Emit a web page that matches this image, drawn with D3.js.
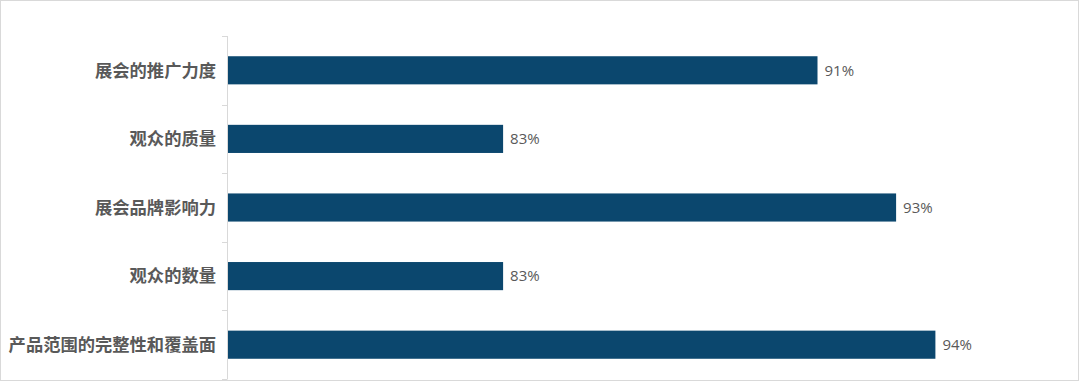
<!DOCTYPE html>
<html><head><meta charset="utf-8">
<script src="https://cdn.jsdelivr.net/npm/d3@7"></script>
<style>html,body{margin:0;padding:0;background:#fff;}svg{display:block;}</style>
</head><body>
<svg id="c" width="1080" height="382"></svg>
<script>
const categories = ["展会的推广力度","观众的质量","展会品牌影响力","观众的数量","产品范围的完整性和覆盖面"];
const values = [91, 83, 93, 83, 94];
const valueLabels = ["91%","83%","93%","83%","94%"];

const svg = d3.select("#c");
const W = 1080, H = 382;
svg.append("rect").attr("x",0.5).attr("y",0.5).attr("width",W-2).attr("height",H-2)
  .attr("fill","#fff").attr("stroke","#d9d9d9");

const x = d3.scaleLinear().domain([76, 96]).range([228, 1014]);
const y = d3.scaleBand().domain(categories).range([36, 379]).paddingInner(0.59).paddingOuter(0.295);

svg.selectAll("rect.bar").data(categories).join("rect").attr("class","bar")
  .attr("x", x(76)).attr("y", d => y(d))
  .attr("width", (d,i) => x(values[i]) - x(76))
  .attr("height", y.bandwidth())
  .attr("fill", "#0b476e");

svg.selectAll("text.val").data(categories).join("text").attr("class","val")
  .attr("x", (d,i) => x(values[i]) + 7)
  .attr("y", d => y(d) + y.bandwidth()/2)
  .attr("dy","0.35em")
  .attr("font-family","Open Sans, Liberation Sans, sans-serif")
  .attr("font-size", 15).attr("fill","#595959")
  .text((d,i) => valueLabels[i]);

// axis
const g = svg.append("g");
g.append("line").attr("x1",227.5).attr("x2",227.5).attr("y1",36).attr("y2",379).attr("stroke","#d9d9d9");
const bounds = d3.range(categories.length + 1).map(i => 36 + i * (343/categories.length));
g.selectAll("line.tick").data(bounds).join("line").attr("class","tick")
  .attr("x1",222).attr("x2",227.5).attr("y1",d=>Math.round(d)+0.5).attr("y2",d=>Math.round(d)+0.5)
  .attr("stroke","#d9d9d9");

svg.selectAll("text.cat").data(categories).join("text").attr("class","cat")
  .attr("x", 216).attr("y", d => y(d) + y.bandwidth()/2)
  .attr("dy","0.36em").attr("text-anchor","end")
  .attr("font-family","Noto Sans CJK SC, sans-serif").attr("font-weight","bold")
  .attr("font-size", 17.3).attr("fill","#595959")
  .text(d => d);
</script>
</body></html>
